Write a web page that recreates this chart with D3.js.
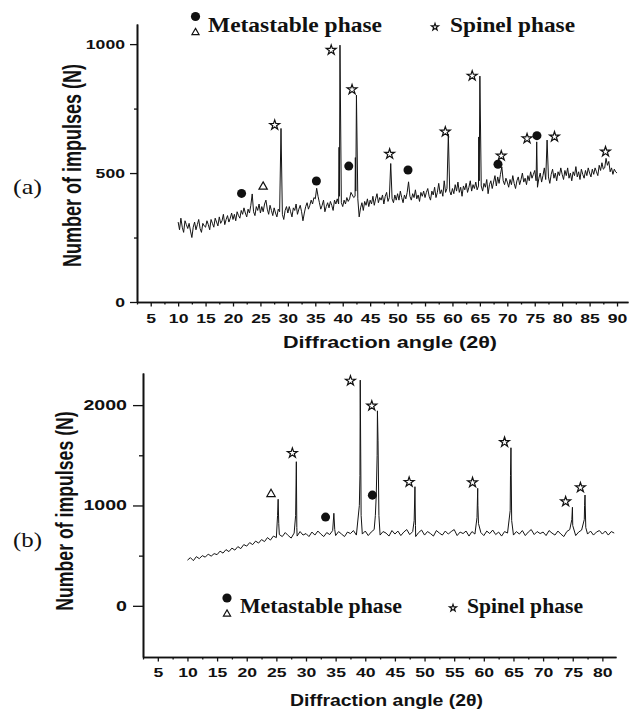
<!DOCTYPE html>
<html>
<head>
<meta charset="utf-8">
<script src="https://cdn.jsdelivr.net/npm/d3@7"></script>
<style>
body { margin: 0; background: #fff; }
svg { display: block; }
.axis path, .axis line { stroke: #111; }
.axis .domain { stroke-width: 1.6; }
.axis .tick line { stroke-width: 1.3; }
.axis .tick text { font-family: "Liberation Sans", Arial, sans-serif; font-weight: bold; fill: #111; }
.sans { font-family: "Liberation Sans", Arial, sans-serif; font-weight: bold; fill: #111; }
.serif { font-family: "Liberation Serif", "Times New Roman", serif; fill: #111; }
</style>
</head>
<body>
<svg width="637" height="711"></svg>
<script>
// (a) counts read every 0.25 deg from 10 to 90
let countsA = [
  310, 280, 325, 290, 270, 315, 300, 285, 305, 275, 250, 290, 310, 280, 300, 320, 285, 270, 305, 295,
  290, 315, 300, 280, 320, 305, 290, 325, 310, 295, 330, 305, 315, 340, 300, 320, 335, 310, 325, 345,
  320, 340, 315, 350, 335, 325, 355, 340, 365, 345, 330, 360, 345, 375, 419, 350, 335, 370, 355, 380,
  345, 370, 350, 380, 395, 360, 340, 375, 355, 335, 365, 345, 330, 360, 350, 673, 340, 320, 355, 370,
  345, 370, 350, 330, 365, 355, 380, 340, 360, 375, 350, 315, 345, 370, 385, 360, 375, 395, 380, 405,
  400, 441, 410, 385, 360, 375, 395, 350, 370, 385, 365, 390, 375, 355, 395, 380, 400, 380, 996, 385,
  370, 395, 380, 405, 390, 400, 425, 415, 405, 410, 802, 400, 330, 365, 385, 355, 390, 375, 400, 370,
  395, 380, 410, 375, 400, 420, 385, 405, 395, 415, 380, 410, 425, 390, 405, 537, 400, 385, 415, 395,
  420, 395, 430, 405, 385, 415, 400, 425, 466, 410, 395, 420, 405, 435, 400, 415, 390, 425, 410, 430,
  405, 425, 440, 410, 395, 430, 415, 445, 405, 425, 460, 420, 435, 410, 470, 425, 440, 651, 430, 415,
  440, 420, 455, 430, 465, 425, 445, 410, 450, 435, 460, 425, 445, 470, 430, 455, 440, 465, 435, 450,
  876, 450, 430, 460, 445, 475, 420, 455, 470, 440, 465, 490, 450, 485, 460, 495, 524, 470, 455, 480,
  465, 445, 475, 455, 490, 460, 440, 470, 485, 455, 475, 500, 465, 480, 455, 490, 470, 505, 480, 495,
  510, 470, 445, 480, 500, 465, 490, 520, 475, 628, 485, 460, 495, 515, 480, 500, 470, 505, 490, 520,
  495, 475, 510, 490, 520, 480, 500, 470, 505, 490, 525, 485, 505, 475, 515, 495, 480, 510, 490, 520,
  500, 485, 515, 495, 520, 505, 490, 530, 510, 540, 515, 520, 557, 530, 545, 505, 520, 495, 515, 505,
  500
];
// doublet shoulders and peaks that fall between the readings
let spikesA = [
  [39.33, 600], [39.4, 410],
  [42.3, 560], [42.38, 430],
  [64.8, 640], [64.88, 470],
  [75.36, 621]
];
let markersA = [
  [21.56, 421, "circle"], [25.49, 447, "triangle"], [27.6, 686, "star"],
  [35.2, 469, "circle"], [37.9, 977, "star"], [41.1, 527, "circle"],
  [41.7, 824, "star"], [48.55, 574, "star"], [51.9, 512, "circle"],
  [58.7, 660, "star"], [63.6, 877, "star"], [68.3, 534, "circle"],
  [68.9, 567, "star"], [73.6, 634, "star"], [75.4, 645, "circle"],
  [78.6, 641, "star"], [87.9, 583, "star"]
];

// (b) counts read every 0.5 deg from 10 to 82
let countsB = [
  455, 480, 450, 490, 470, 500, 485, 515, 495, 520,
  510, 545, 525, 560, 540, 575, 555, 590, 570, 610,
  595, 630, 610, 645, 625, 660, 640, 680, 655, 695,
  680, 710, 690, 730, 700, 675, 725, 695, 740, 705,
  720, 690, 735, 705, 745, 715, 690, 730, 710, 750,
  700, 740, 715, 690, 735, 720, 750, 705, 1000, 715,
  745, 700, 735, 760, 1500, 705, 740, 725, 695, 750,
  715, 745, 700, 735, 760, 710, 740, 690, 730, 755,
  705, 740, 720, 695, 750, 725, 705, 745, 715, 740,
  760, 700, 735, 720, 745, 695, 740, 715, 1000, 730,
  700, 745, 720, 755, 710, 735, 695, 740, 725, 1300,
  705, 740, 715, 750, 700, 735, 760, 710, 740, 720,
  735, 700, 750, 725, 705, 745, 715, 690, 740, 760,
  800, 700, 735, 755, 1000, 715, 745, 705, 735, 750,
  715, 745, 705, 740, 725
];
let spikesB = [
  [25.2, 900], [25.3, 1062], [25.4, 820],
  [28.25, 900], [28.37, 1436], [28.45, 780],
  [34.7, 922], [34.85, 760],
  [39.1, 1300], [39.15, 2249], [39.3, 900],
  [41.7, 900], [41.85, 1100], [42.05, 1943], [42.15, 1650], [42.3, 900],
  [48.25, 850], [48.38, 1187], [48.47, 800],
  [58.85, 880], [58.97, 1171], [59.1, 820],
  [64.45, 950], [64.58, 1575], [64.7, 850],
  [74.85, 860], [74.95, 982],
  [76.95, 860], [77.07, 1104], [77.2, 780]
];
let markersB = [
  [24.1, 1113, "triangle"], [27.7, 1522, "star"], [33.3, 884, "circle"],
  [37.5, 2242, "star"], [41.2, 1103, "circle"], [41.1, 1993, "star"],
  [47.4, 1233, "star"], [58.1, 1229, "star"], [63.5, 1631, "star"],
  [73.8, 1039, "star"], [76.3, 1179, "star"]
];

let xTicksA = [5, 10, 15, 20, 25, 30, 35, 40, 45, 50, 55, 60, 65, 70, 75, 80, 85, 90];
let xTicksB = [5, 10, 15, 20, 25, 30, 35, 40, 45, 50, 55, 60, 65, 70, 75, 80];
let yTicksA = [0, 500, 1000];
let yMinorA = [250, 750];
let yTicksB = [0, 1000, 2000];
let yMinorB = [500, 1500];

let SX = 1.4; // the figure is stretched horizontally
let svg = d3.select("svg");

let symbols = {circle: d3.symbolCircle, triangle: d3.symbolTriangle, star: d3.symbolStar};
let symbolSize = {circle: 64, triangle: 30, star: 30};

function drawPanel(cfg, counts, spikes, markers, xTicks, yTicks, yMinor){
  let points = counts.map(function(v, i){ return [cfg.start + i * cfg.step, v]; })
    .concat(spikes)
    .sort(function(a, b){ return a[0] - b[0]; });

  let x = d3.scaleLinear().domain(cfg.xDomain).range(cfg.xRange),
    y = d3.scaleLinear().domain(cfg.yDomain).range(cfg.yRange);

  // x axis, minor then labelled ticks
  svg.append("g")
    .attr("class", "axis")
    .attr("transform", "translate(0," + cfg.yRange[0] + ")")
    .call(d3.axisBottom(x).tickValues(xTicks.map(function(t){ return t - 2.5; })).tickSize(2.5).tickSizeOuter(0).tickFormat(""));

  let gx = svg.append("g")
    .attr("class", "axis")
    .attr("transform", "translate(0," + cfg.yRange[0] + ")")
    .call(d3.axisBottom(x).tickValues(xTicks).tickSize(4.5).tickSizeOuter(0).tickFormat(d3.format("d")));
  gx.selectAll(".tick text")
    .attr("y", cfg.xLabelGap)
    .attr("transform", "scale(" + SX + ",1)")
    .style("font-size", "12.6px");

  // y axis
  svg.append("g")
    .attr("class", "axis")
    .attr("transform", "translate(" + cfg.xRange[0] + ",0)")
    .call(d3.axisLeft(y).tickValues(yMinor).tickSize(cfg.yMinorLen).tickSizeOuter(0).tickFormat(""));

  let gy = svg.append("g")
    .attr("class", "axis")
    .attr("transform", "translate(" + cfg.xRange[0] + ",0)")
    .call(d3.axisLeft(y).tickValues(yTicks).tickSize(cfg.yMajorLen).tickSizeOuter(0).tickFormat(d3.format("d")));
  gy.selectAll(".tick text")
    .attr("x", -cfg.yLabelGap / SX)
    .attr("transform", "scale(" + SX + ",1)")
    .style("font-size", cfg.yFont + "px");

  svg.append("path")
    .datum(points)
    .attr("fill", "none")
    .attr("stroke", "#141414")
    .attr("stroke-width", 1)
    .attr("stroke-linejoin", "round")
    .attr("d", d3.line()
      .x(function(d){ return x(d[0]); })
      .y(function(d){ return y(d[1]); }));

  svg.append("g").selectAll("path")
    .data(markers)
    .enter().append("path")
      .attr("transform", function(d){ return "translate(" + x(d[0]) + "," + y(d[1]) + ")"; })
      .attr("d", function(d){ return d3.symbol(symbols[d[2]], symbolSize[d[2]])(); })
      .attr("fill", function(d){ return d[2] === "circle" ? "#111" : "#fff"; })
      .attr("stroke", "#111")
      .attr("stroke-width", function(d){ return d[2] === "circle" ? 0 : 1.2; });

  svg.append("text")
    .attr("class", "sans")
    .attr("transform", "translate(" + cfg.yTitle[0] + "," + cfg.yTitle[1] + ") scale(" + SX + ",1) rotate(-90)")
    .attr("text-anchor", "middle")
    .attr("dy", "0.35em")
    .style("font-size", cfg.yTitleFont + "px")
    .text("Number of impulses (N)");

  svg.append("text")
    .attr("class", "sans")
    .attr("x", cfg.xTitle[0])
    .attr("y", cfg.xTitle[1])
    .attr("text-anchor", "middle")
    .attr("textLength", cfg.xTitle[2])
    .attr("lengthAdjust", "spacingAndGlyphs")
    .style("font-size", "16px")
    .text("Diffraction angle (2\u03b8)");

  svg.append("text")
    .attr("class", "serif")
    .attr("x", 13)
    .attr("y", cfg.tag[1])
    .attr("textLength", 29)
    .attr("lengthAdjust", "spacingAndGlyphs")
    .style("font-size", "21px")
    .text(cfg.tag[0]);

  // legend
  let lg = cfg.legend;
  svg.append("circle").attr("cx", lg.sym[0]).attr("cy", lg.sym[1]).attr("r", 4.6).attr("fill", "#111");
  svg.append("path")
    .attr("transform", "translate(" + lg.sym[0] + "," + (lg.sym[1] + 16) + ")")
    .attr("d", d3.symbol(d3.symbolTriangle, 22)())
    .attr("fill", "#fff").attr("stroke", "#111").attr("stroke-width", 1.2);
  svg.append("text")
    .attr("class", "serif")
    .attr("x", lg.text1[0]).attr("y", lg.base)
    .attr("textLength", lg.text1[1])
    .attr("lengthAdjust", "spacingAndGlyphs")
    .style("font-size", "20px").style("font-weight", "bold")
    .text("Metastable phase");
  svg.append("path")
    .attr("transform", "translate(" + lg.star[0] + "," + lg.star[1] + ")")
    .attr("d", d3.symbol(d3.symbolStar, 16)())
    .attr("fill", "#fff").attr("stroke", "#111").attr("stroke-width", 1.1);
  svg.append("text")
    .attr("class", "serif")
    .attr("x", lg.text2[0]).attr("y", lg.base)
    .attr("textLength", lg.text2[1])
    .attr("lengthAdjust", "spacingAndGlyphs")
    .style("font-size", "20px").style("font-weight", "bold")
    .text("Spinel phase");
}

drawPanel({
  start: 10, step: 0.25,
  xDomain: [2.5, 92], xRange: [137, 628],
  yDomain: [0, 1078], yRange: [302, 24],
  xLabelGap: 12, yLabelGap: 12, yFont: 12.6,
  yMajorLen: 7, yMinorLen: 3,
  yTitle: [72, 165.5], yTitleFont: 18,
  xTitle: [390, 348, 214],
  tag: ["(a)", 194],
  legend: {sym: [195.5, 16.5], text1: [208, 174], star: [435, 27], text2: [450, 125], base: 32}
}, countsA, spikesA, markersA, xTicksA, yTicksA, yMinorA);

drawPanel({
  start: 10, step: 0.5,
  xDomain: [2.5, 82.3], xRange: [143, 616],
  yDomain: [-510, 2320], yRange: [657, 373],
  xLabelGap: 11, yLabelGap: 16, yFont: 14,
  yMajorLen: 10, yMinorLen: 4,
  yTitle: [64.5, 511], yTitleFont: 17.7,
  xTitle: [386.5, 706, 193],
  tag: ["(b)", 547],
  legend: {sym: [227, 598], text1: [240, 162], star: [453, 608], text2: [467, 116], base: 613}
}, countsB, spikesB, markersB, xTicksB, yTicksB, yMinorB);
</script>
</body>
</html>
